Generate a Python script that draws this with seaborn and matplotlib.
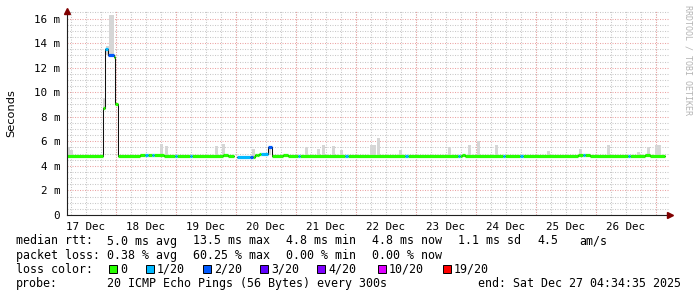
import numpy as np
import matplotlib
matplotlib.use("Agg")
import matplotlib.pyplot as plt
from matplotlib.patches import Rectangle
import seaborn as sns

# ---------------- data (hours since Dec 17 04:34:35, values in ms) ----------------
times_h = [0.0, 14.4, 15.2, 16.2, 18.6, 19.0, 20.2, 29.2, 31.2, 32.4, 34.0, 34.8,
           38.8, 43.2, 44.0, 49.2, 50.0, 62.4, 64.4, 66.8, 68.0, 73.2, 74.4, 75.2,
           76.0, 76.8, 77.6, 80.4, 82.0, 86.4, 88.4, 92.4, 93.2, 111.2, 112.4,
           135.2, 136.4, 156.4, 157.2, 158.0, 159.2, 174.4, 175.2, 181.2, 182.4,
           204.4, 206.4, 207.2, 209.2, 224.4, 225.2, 231.2, 233.2, 239.2]
median_ms = [4.8, 8.7, 13.5, 13.0, 12.9, 9.0, 4.8, 4.9, 4.9, 4.9, 4.9, 4.9,
             4.8, 4.8, 4.8, 4.8, 4.8, 4.9, 4.8, np.nan, 4.72, 4.72, 4.75, 4.85,
             4.9, 5.0, 5.0, 5.55, 4.82, 4.92, 4.82, 4.82, 4.82, 4.82, 4.82,
             4.82, 4.82, 4.82, 4.82, 4.92, 4.82, 4.82, 4.82, 4.82, 4.82,
             4.9, 4.9, 4.9, 4.82, 4.82, 4.82, 4.9, 4.82, np.nan]
loss_n = [0, 0, 1, 2, 0, 0, 0, 0, 1, 0, 1, 0,
          0, 1, 0, 1, 0, 0, 0, 0, 1, 2, 0, 0,
          0, 0, 1, 2, 0, 0, 0, 1, 0, 1, 0,
          1, 0, 1, 0, 0, 0, 1, 0, 1, 0,
          0, 1, 0, 0, 1, 0, 0, 0, 0]

smoke_h = [0.5, 1.8, 14.9, 16.0, 17.2, 18.0, 37.6, 39.6, 59.8, 62.4, 74.4, 80.8,
           95.8, 100.4, 102.4, 106.4, 109.8, 121.6, 122.8, 124.4, 133.4, 153.0,
           161.0, 164.6, 171.8, 192.4, 205.2, 216.4, 228.6, 232.4, 235.8, 237.0]
smoke_lo = [4.8, 4.8, 8.7, 13.0, 13.0, 13.0, 4.8, 4.8, 4.8, 4.8, 4.75, 4.9,
            4.8, 4.8, 4.8, 4.8, 4.8, 4.8, 4.8, 4.8, 4.8, 4.8,
            4.8, 4.8, 4.8, 4.8, 4.8, 4.8, 4.8, 4.8, 4.8, 4.8]
smoke_hi = [5.5, 5.3, 9.5, 13.8, 16.3, 16.3, 5.8, 5.6, 5.6, 5.8, 5.4, 5.5,
            5.5, 5.4, 5.7, 5.6, 5.3, 5.7, 5.7, 6.3, 5.3, 5.5,
            5.7, 6.0, 5.7, 5.2, 5.4, 5.7, 5.1, 5.5, 5.7, 5.7]

day_labels = ["17 Dec", "18 Dec", "19 Dec", "20 Dec", "21 Dec",
              "22 Dec", "23 Dec", "24 Dec", "25 Dec", "26 Dec"]
first_midnight_h = 19.4236
first_noon_h = 7.4236
first_six_h = 1.4236

loss_levels = [0, 1, 2, 3, 4, 10, 19]
loss_labels = ["0", "1/20", "2/20", "3/20", "4/20", "10/20", "19/20"]
loss_colors = ["#26ff00", "#00b8ff", "#0059ff", "#5e00ff", "#7e00ff", "#dd00ff", "#ff0000"]

y_ticks = [0, 2, 4, 6, 8, 10, 12, 14, 16]
y_ticklabels = ["0", "2 m", "4 m", "6 m", "8 m", "10 m", "12 m", "14 m", "16 m"]

legend_rows = [
    [(16, "median rtt:"), (107, "5.0 ms avg"), (193, "13.5 ms max"), (286, "4.8 ms min"),
     (372, "4.8 ms now"), (458, "1.1 ms sd"), (537, "4.5"), (579, "am/s")],
    [(16, "packet loss:"), (107, "0.38 % avg"), (193, "60.25 % max"), (286, "0.00 % min"),
     (372, "0.00 % now")],
    [(16, "loss color:")],
    [(16, "probe:"), (107, "20 ICMP Echo Pings (56 Bytes) every 300s"),
     (478, "end: Sat Dec 27 04:34:35 2025")],
]
square_x = [109, 146, 203, 260, 317, 378, 443]

# ---------------- layout ----------------
W, H = 697, 297
sns.set_theme(style="white")
plt.rcParams['font.family'] = ['DejaVu Sans Mono', 'DejaVu Sans']

fig = plt.figure(figsize=(W / 100, H / 100), dpi=100)
fig.patch.set_facecolor("white")

PX_PER_H = 2.5
PX_PER_MS = 12.28
X0, X1 = 67, 670
Y0, Y1 = 215, 11
ax = fig.add_axes([X0 / W, (H - Y0) / H, (X1 - X0) / W, (Y0 - Y1) / H])
ax.set_facecolor("white")
ax.set_xlim(0, (X1 - X0) / PX_PER_H)
ax.set_ylim(0, (Y0 - Y1) / PX_PER_MS)

GRID_MINOR = "#c8c8c8"
GRID_MAJOR = "#eba3a3"
dot = (0, (1, 1.4))

# y grid
ax.set_yticks(y_ticks)
ax.set_yticklabels(y_ticklabels)
ax.set_yticks(np.arange(0, 16.6, 0.5), minor=True)
ax.yaxis.grid(True, which="minor", color=GRID_MINOR, linestyle=dot, linewidth=0.75)
ax.yaxis.grid(True, which="major", color=GRID_MAJOR, linestyle=dot, linewidth=0.75)

# x grid: minor every 6h, red at midnight, labels at noon
noons = [first_noon_h + 24 * i for i in range(len(day_labels))]
sixes = np.arange(first_six_h, 241, 6.0)
midnights = np.arange(first_midnight_h, 241, 24.0)
ax.set_xticks(noons)
ax.set_xticklabels(day_labels)
ax.set_xticks(sixes, minor=True)
ax.xaxis.remove_overlapping_locs = False
ax.xaxis.grid(False, which="major")
ax.xaxis.grid(True, which="minor", color=GRID_MINOR, linestyle=dot, linewidth=0.75)
for m in midnights:
    ax.axvline(m, color=GRID_MAJOR, linestyle=dot, linewidth=0.75, zorder=1)
ax.set_axisbelow(True)

ax.tick_params(axis="both", which="both", direction="out", color="#606060",
               labelsize=7.8, labelcolor="black")
ax.tick_params(axis="y", which="both", length=2, width=0.7, pad=3)
ax.tick_params(axis="x", which="major", length=0, pad=5)
ax.tick_params(axis="x", which="minor", length=2, width=0.7)

for s in ["top", "right"]:
    ax.spines[s].set_visible(False)
for s in ["left", "bottom"]:
    ax.spines[s].set_color("#202020")
    ax.spines[s].set_linewidth(0.8)
    ax.spines[s].set_zorder(6)

ax.plot([0], [1], marker="^", color="#800000", markersize=4.5, transform=ax.transAxes,
        clip_on=False, zorder=7)
ax.plot([1], [0], marker=">", color="#800000", markersize=4.5, transform=ax.transAxes,
        clip_on=False, zorder=7)

# smoke
ax.bar(smoke_h, np.subtract(smoke_hi, smoke_lo), bottom=smoke_lo, width=1.2,
       color="#d6d6d6", linewidth=0, zorder=2)

# median line: thin black steps, thick colored horizontals by loss
t = np.array(times_h)
v = np.array(median_ms, dtype=float)
ln = np.array(loss_n)
ax.step(t, v, where="post", color="#101010", linewidth=0.75, zorder=3)
cmap = dict(zip(loss_levels, loss_colors))
for lvl in loss_levels:
    idx = [i for i in range(len(t) - 1) if ln[i] == lvl and not np.isnan(v[i])]
    if idx:
        ax.hlines(v[idx], t[idx], t[[i + 1 for i in idx]], colors=cmap[lvl],
                  linewidth=2.3, zorder=4, capstyle="butt")

# ---------------- texts ----------------
def fx(x):
    return x / W

def fy(y):
    return 1 - y / H

fig.text(fx(11), fy(113), "Seconds", rotation=90, ha="center", va="center",
         fontsize=8.2, family="DejaVu Sans", color="black")
fig.text(fx(688), fy(60), "RRDTOOL / TOBI OETIKER", rotation=270, ha="center",
         va="center", fontsize=6, color="#b4b4b4")

row_y = [240.5, 254.7, 268.9, 283.1]
for yrow, row in zip(row_y, legend_rows):
    for x, s in row:
        fig.text(fx(x), fy(yrow + 4), s, ha="left", va="baseline", fontsize=8.4,
                 color="black")

sq = 7.5
for x, lab, col in zip(square_x, loss_labels, loss_colors):
    fig.patches.append(Rectangle((fx(x), fy(row_y[2] + sq / 2)), sq / W, sq / H,
                                 transform=fig.transFigure, facecolor=col,
                                 edgecolor="black", linewidth=0.7))
    fig.text(fx(x + 11), fy(row_y[2] + 4), lab, ha="left", va="baseline",
             fontsize=8.4, color="black")

fig.savefig("out.png", dpi=100, facecolor="white")
